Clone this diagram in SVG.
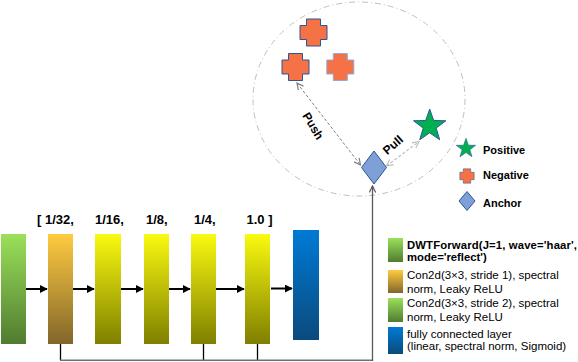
<svg xmlns="http://www.w3.org/2000/svg" width="578" height="362" viewBox="0 0 578 362">
<defs>
<style>
text{font-family:"Liberation Sans",Arial,sans-serif;fill:#000}
.lbl{font-size:13px;font-weight:bold}
.leg{font-size:11px;font-weight:bold}
.pp{font-size:12px;font-weight:bold}
.key{font-size:11.5px}
.keyb{font-size:11.3px;font-weight:bold}
.neg{fill:#F47246;stroke:#2F5597;stroke-width:1}
.pos{fill:#00B050;stroke:#2F5597;stroke-width:1}
.anc{fill:#7FA0D6;stroke:#2F5597;stroke-width:1}
.flow{stroke:#000;stroke-width:2;fill:none;marker-end:url(#ah)}
.skip{stroke:#000;stroke-width:1.3;fill:none}
</style>
<linearGradient id="gGreen" x1="0" y1="0" x2="0" y2="1"><stop offset="0" stop-color="#9BE05A"/><stop offset="1" stop-color="#507C30"/></linearGradient>
<linearGradient id="gOrange" x1="0" y1="0" x2="0" y2="1"><stop offset="0" stop-color="#FFCB40"/><stop offset="1" stop-color="#82662A"/></linearGradient>
<linearGradient id="gYellow" x1="0" y1="0" x2="0" y2="1"><stop offset="0" stop-color="#FAFA10"/><stop offset="1" stop-color="#7F7F00"/></linearGradient>
<linearGradient id="gBlue" x1="0" y1="0" x2="0" y2="1"><stop offset="0" stop-color="#007AD6"/><stop offset="1" stop-color="#0B4A7C"/></linearGradient>
<marker id="ah" viewBox="0 0 10 10" refX="9" refY="5" markerWidth="4" markerHeight="4" orient="auto"><path d="M0,0 L10,5 L0,10 z" fill="#000"/></marker>
<marker id="vg" viewBox="0 0 10 10" refX="9" refY="5" markerWidth="8" markerHeight="8" orient="auto-start-reverse" markerUnits="userSpaceOnUse"><path d="M1,1 L9,5 L1,9" fill="none" stroke="#808080" stroke-width="1.5"/></marker>
<marker id="vl" viewBox="0 0 10 10" refX="9" refY="5" markerWidth="8" markerHeight="8" orient="auto-start-reverse" markerUnits="userSpaceOnUse"><path d="M1,1 L9,5 L1,9" fill="none" stroke="#BFBFBF" stroke-width="1.5"/></marker>
<marker id="vd" viewBox="0 0 10 10" refX="9" refY="5" markerWidth="8" markerHeight="8" orient="auto" markerUnits="userSpaceOnUse"><path d="M1,1 L9,5 L1,9" fill="none" stroke="#595959" stroke-width="1.5"/></marker>
<path id="star" d="M0,-17 L4,-5.5 L16.17,-5.25 L6.47,2.1 L9.99,13.75 L0,6.8 L-9.99,13.75 L-6.47,2.1 L-16.17,-5.25 L-4,-5.5 Z"/>
<path id="cross" d="M-7,-13.5 H7 V-7 H13.5 V7 H7 V13.5 H-7 V7 H-13.5 V-7 H-7 Z"/>
</defs>

<rect width="578" height="362" fill="#fff"/>

<g id="embedding-space">
<ellipse cx="359" cy="99" rx="106" ry="97" fill="none" stroke="#BFBFBF" stroke-width="1" stroke-dasharray="6 3 1 3"/>
</g>

<g id="negative-1"><use href="#cross" class="neg" transform="translate(313.5,32.5)"/></g>
<g id="negative-2"><use href="#cross" class="neg" transform="translate(295.5,67)"/></g>
<g id="negative-3"><use href="#cross" class="neg" style="stroke:#8FAADC" transform="translate(340.3,67)"/></g>
<g id="positive"><use href="#star" class="pos" transform="translate(429.7,126)"/></g>
<g id="anchor"><path class="anc" d="M374,151 L386.5,167.5 L374,184 L361.5,167.5 Z"/></g>

<g id="block-dwt"><rect x="1" y="234" width="25" height="110" fill="url(#gGreen)"/></g>
<g id="block-conv1"><rect x="48" y="234" width="25" height="110" fill="url(#gOrange)"/></g>
<g id="block-conv2"><rect x="95" y="234" width="26" height="110" fill="url(#gYellow)"/></g>
<g id="block-conv3"><rect x="144" y="234" width="25" height="110" fill="url(#gYellow)"/></g>
<g id="block-conv4"><rect x="191" y="234" width="25" height="110" fill="url(#gYellow)"/></g>
<g id="block-conv5"><rect x="245" y="234" width="25" height="110" fill="url(#gYellow)"/></g>
<g id="block-fc"><rect x="293" y="230" width="26" height="110" fill="url(#gBlue)"/></g>

<g id="scale-labels">
<text class="lbl" x="37" y="224">[ 1/32,</text>
<text class="lbl" x="95" y="224">1/16,</text>
<text class="lbl" x="146" y="224">1/8,</text>
<text class="lbl" x="194" y="224">1/4,</text>
<text class="lbl" x="246.5" y="224">1.0 ]</text>
</g>

<g id="connectors">
<line class="flow" x1="26" y1="289" x2="47" y2="289"/>
<line class="flow" x1="73" y1="289" x2="94" y2="289"/>
<line class="flow" x1="121" y1="289" x2="143" y2="289"/>
<line class="flow" x1="169" y1="289" x2="190" y2="289"/>
<line class="flow" x1="216" y1="289" x2="244" y2="289"/>
<line class="flow" x1="271" y1="288.5" x2="292" y2="288.5"/>
<line class="skip" x1="60.5" y1="344" x2="60.5" y2="360"/>
<line class="skip" x1="203.5" y1="344" x2="203.5" y2="360"/>
<line class="skip" x1="257.5" y1="344" x2="257.5" y2="360"/>
<line x1="60" y1="360.3" x2="372.5" y2="360.3" stroke="#707070" stroke-width="1.5"/>
<line x1="372.5" y1="361" x2="372.5" y2="186" stroke="#595959" stroke-width="1.3" marker-end="url(#vd)"/>
<line x1="297" y1="83" x2="360.5" y2="165" stroke="#808080" stroke-width="1" stroke-dasharray="3 2" marker-start="url(#vg)" marker-end="url(#vg)"/>
<line x1="386.5" y1="166" x2="419" y2="141.5" stroke="#BFBFBF" stroke-width="1.2" stroke-dasharray="3 2" marker-start="url(#vl)" marker-end="url(#vl)"/>
<text class="pp" x="313" y="130" text-anchor="middle" transform="rotate(59 313 126)">Push</text>
<text class="pp" x="393" y="149" text-anchor="middle" transform="rotate(-41 393 145)">Pull</text>
</g>

<g id="legend-shapes">
<use href="#star" class="pos" transform="translate(466,148.5) scale(0.6)"/>
<text class="leg" x="483" y="154">Positive</text>
<use href="#cross" class="neg" transform="translate(467,176) scale(0.53)"/>
<text class="leg" x="483" y="178.5">Negative</text>
<path class="anc" d="M467,191.5 L475,201 L467,210.5 L459,201 Z"/>
<text class="leg" x="483" y="207">Anchor</text>
</g>

<g id="legend-blocks">
<rect x="388" y="238" width="15" height="24" fill="url(#gGreen)"/>
<text class="keyb" x="407" y="248.5" textLength="170" lengthAdjust="spacing">DWTForward(J=1, wave='haar',</text>
<text class="keyb" x="407" y="261">mode='reflect')</text>
<rect x="388" y="270" width="15" height="23" fill="url(#gOrange)"/>
<text class="key" x="407" y="278.5">Con2d(3×3, stride 1), spectral</text>
<text class="key" x="407" y="293">norm, Leaky ReLU</text>
<rect x="388" y="298" width="15" height="24" fill="url(#gGreen)"/>
<text class="key" x="407" y="306.5">Con2d(3×3, stride 2), spectral</text>
<text class="key" x="407" y="321">norm, Leaky ReLU</text>
<rect x="388" y="327" width="15" height="27" fill="url(#gBlue)"/>
<text class="key" x="407" y="338">fully connected layer</text>
<text class="key" x="407" y="350">(linear, spectral norm, Sigmoid)</text>
</g>
</svg>
